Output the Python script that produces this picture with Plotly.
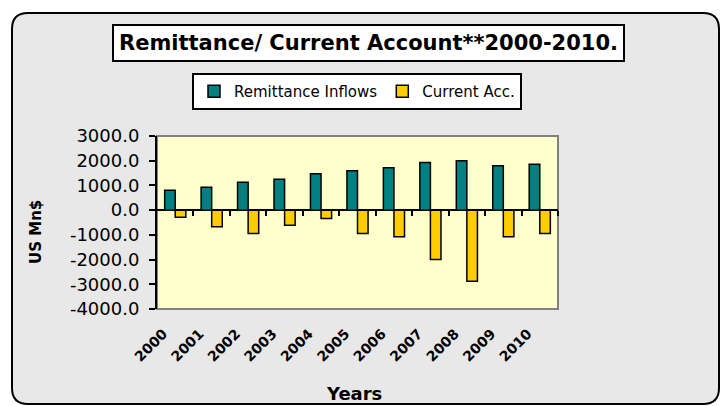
import plotly.graph_objects as go

years = ["2000", "2001", "2002", "2003", "2004", "2005", "2006", "2007", "2008", "2009", "2010"]
remittance = [800, 930, 1130, 1255, 1475, 1595, 1715, 1930, 2000, 1800, 1860]
current_acc = [-285, -670, -945, -610, -335, -950, -1075, -1995, -2875, -1075, -945]
y_ticks = [3000, 2000, 1000, 0, -1000, -2000, -3000, -4000]

W, H = 721, 406
# plot area in pixels
PX0, PX1, PY0, PY1 = 157, 558, 136, 309

def px(x):
    return x / W

def py(y):
    return 1 - y / H

fig = go.Figure()
fig.add_trace(go.Bar(x=years, y=remittance, name="Remittance Inflows",
                     marker=dict(color="#008080", line=dict(color="black", width=1.5))))
fig.add_trace(go.Bar(x=years, y=current_acc, name="Current Acc.",
                     marker=dict(color="#FFCC00", line=dict(color="black", width=1.5))))
# helper trace for the category-boundary tick axis
fig.add_trace(go.Scatter(x=[None], y=[None], xaxis="x2", yaxis="y", showlegend=False,
                         hoverinfo="skip"))

ymin, ymax = min(y_ticks), max(y_ticks)
ydom = [py(PY1), py(PY0)]
zero_pos = ydom[0] + (0 - ymin) / (ymax - ymin) * (ydom[1] - ydom[0])

# rounded outer frame
x0, y0, x1, y1, r = 12, 13, 719, 404, 16
pts = [
    f"M {px(x0+r)},{py(y0)}",
    f"L {px(x1-r)},{py(y0)}",
    f"Q {px(x1)},{py(y0)} {px(x1)},{py(y0+r)}",
    f"L {px(x1)},{py(y1-r)}",
    f"Q {px(x1)},{py(y1)} {px(x1-r)},{py(y1)}",
    f"L {px(x0+r)},{py(y1)}",
    f"Q {px(x0)},{py(y1)} {px(x0)},{py(y1-r)}",
    f"L {px(x0)},{py(y0+r)}",
    f"Q {px(x0)},{py(y0)} {px(x0+r)},{py(y0)} Z",
]
shapes = [
    dict(type="path", xref="paper", yref="paper", path=" ".join(pts),
         fillcolor="#e8e8e8", line=dict(color="black", width=2), layer="below"),
    dict(type="rect", xref="paper", yref="paper", x0=px(PX0), x1=px(PX1), y0=py(PY1), y1=py(PY0),
         fillcolor="#FFFFCC", line=dict(color="#808080", width=2), layer="below"),
]

fig.update_layout(
    width=W, height=H,
    margin=dict(l=0, r=0, t=0, b=0, autoexpand=False),
    paper_bgcolor="white",
    plot_bgcolor="rgba(0,0,0,0)",
    barmode="group",
    bargap=0.42,
    bargroupgap=0,
    shapes=shapes,
    font=dict(family="DejaVu Sans", color="black"),
    xaxis=dict(domain=[px(PX0), px(PX1)], type="category", showline=False, ticks="",
               showgrid=False, zeroline=False, tickangle=-45,
               tickfont=dict(family="DejaVu Sans", size=14, color="black", weight="bold"),
               ticklabelstandoff=13, ticklabelshift=-12),
    xaxis2=dict(domain=[px(PX0), px(PX1)], overlaying="x", anchor="free", position=zero_pos,
                range=[-0.5, 10.5], tickvals=[i + 0.5 for i in range(11)],
                ticks="outside", ticklen=5, tickwidth=2, tickcolor="black",
                showticklabels=False, showgrid=False, zeroline=False, showline=False),
    yaxis=dict(domain=ydom, range=[ymin, ymax], tickvals=y_ticks,
               ticktext=[f"{v:.1f}" for v in y_ticks],
               showgrid=False, zeroline=True, zerolinecolor="black", zerolinewidth=2,
               showline=True, linecolor="black", linewidth=2,
               ticks="outside", ticklen=6, tickwidth=2, tickcolor="black",
               tickfont=dict(family="DejaVu Sans", size=18, color="black"),
               ticklabelstandoff=6),
    legend=dict(orientation="h", x=px(192), y=py(73), xanchor="left", yanchor="top",
                bgcolor="white", bordercolor="black", borderwidth=2,
                font=dict(family="DejaVu Sans", size=15, color="black"),
                traceorder="normal", itemwidth=30),
    annotations=[
        dict(text="Remittance/ Current Account**2000-2010.", xref="paper", yref="paper",
             x=px(368), y=py(43), xanchor="center", yanchor="middle", showarrow=False,
             font=dict(family="DejaVu Sans", size=21, color="black", weight="bold"),
             bgcolor="white", bordercolor="black", borderwidth=2, borderpad=5),
        dict(text="US Mn$", xref="paper", yref="paper", x=px(36), y=py(232),
             xanchor="center", yanchor="middle", showarrow=False, textangle=-90,
             font=dict(family="DejaVu Sans", size=15, color="black", weight="bold")),
        dict(text="Years", xref="paper", yref="paper", x=px(354), y=py(393),
             xanchor="center", yanchor="middle", showarrow=False,
             font=dict(family="DejaVu Sans", size=18, color="black", weight="bold")),
    ],
)

fig.write_html("out.html")
